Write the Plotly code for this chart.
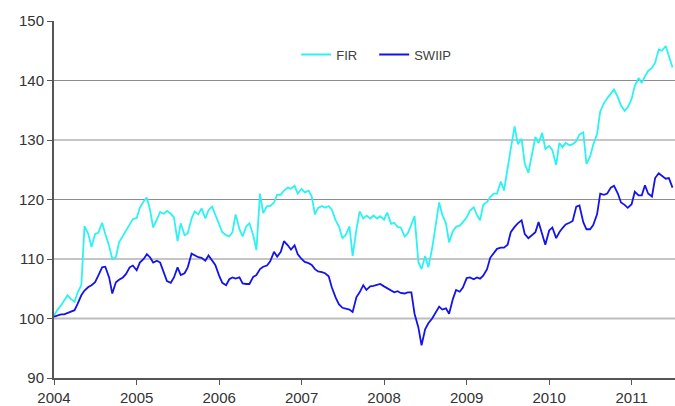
import pandas as pd
import plotly.graph_objects as go

# Semi-monthly observations starting January 2004
start_date = "2004-01-01"

fir = [
    100.5, 101.4, 102.2, 103.1, 103.9, 103.3, 102.8, 104.4, 105.6, 115.5,
    114.2, 112.0, 114.2, 114.4, 116.1, 114.2, 112.2, 110.0, 110.3, 112.8,
    113.9, 114.7, 115.8, 116.7, 116.9, 118.6, 119.7, 120.3, 118.3, 115.3,
    116.7, 117.9, 117.6, 118.1, 117.6, 117.0, 113.0, 116.0, 114.0, 114.3,
    116.8, 118.0, 117.5, 118.5, 116.8, 118.2, 118.8, 117.5, 116.0, 114.5,
    114.0, 113.8, 114.5, 117.5, 115.0, 113.8, 115.5, 116.0, 114.0, 111.5,
    121.0, 117.7, 118.9, 118.9, 119.5, 120.8, 120.8, 121.5, 122.0, 121.8,
    122.3, 121.0, 121.8, 121.2, 121.5, 120.5, 117.5, 118.6, 118.9, 118.6,
    118.9, 118.3, 116.5, 115.5, 113.5, 114.0, 115.5, 110.5, 115.0, 118.0,
    116.8, 117.3, 116.8, 117.3, 116.8, 117.2, 116.6, 117.8, 115.9, 116.1,
    115.4, 115.3, 113.8, 114.3, 115.8, 117.2, 109.5, 108.3, 110.5, 108.6,
    111.8, 115.0, 119.5, 117.4, 116.0, 112.8, 114.7, 115.4, 115.6, 116.2,
    117.0, 118.1, 118.7, 117.4, 116.5, 119.1, 119.6, 120.4, 121.0, 121.0,
    123.0, 121.5, 125.5, 128.5, 132.3, 129.3, 130.2, 126.0, 124.5, 127.5,
    130.5, 129.5, 131.2, 128.5, 129.0, 128.3, 125.8, 129.5, 128.8, 129.5,
    129.1, 129.3, 129.8, 130.9, 131.3, 126.0, 127.2, 129.2, 131.0, 134.8,
    136.2, 137.0, 137.7, 138.5, 137.2, 135.8, 134.9, 135.5, 136.9, 139.1,
    140.4, 139.6, 140.7, 141.6, 142.1, 143.0, 145.2, 145.0, 145.8, 144.0,
    142.2,
]

swiip = [
    100.3, 100.5, 100.7, 100.7, 100.9, 101.1, 101.4, 102.5, 103.9, 104.7,
    105.3, 105.6, 106.1, 107.2, 108.6, 108.7, 106.9, 104.2, 106.1, 106.5,
    106.9, 107.5, 108.6, 108.9, 108.1, 109.4, 110.0, 110.8, 110.3, 109.4,
    109.7, 109.4, 107.8, 106.3, 106.0, 106.9, 108.6, 107.3, 107.6, 108.6,
    110.9, 110.6, 110.3, 110.2, 109.7, 110.6, 109.8, 109.0, 107.2, 106.0,
    105.6, 106.6, 106.9, 106.7, 106.9, 105.9, 105.8, 105.8, 107.0, 107.3,
    108.3, 108.7, 108.9, 109.6, 111.2, 110.4, 111.2, 113.0, 112.3, 111.6,
    112.3, 110.8, 110.0, 109.5, 109.3, 109.0, 108.3, 107.9, 107.8, 107.6,
    107.1, 105.2, 103.5, 102.4, 101.8, 101.7, 101.5, 101.1, 103.6, 104.4,
    105.6, 104.8, 105.4, 105.5, 105.6, 105.8, 105.4, 105.1, 104.8, 104.4,
    104.6, 104.3, 104.2, 104.4, 104.4, 100.8, 98.5, 95.5, 98.2, 99.2,
    100.0, 100.8, 102.0, 101.5, 101.7, 100.8, 103.3, 104.8, 104.5, 105.2,
    106.8, 106.9, 106.6, 106.9, 106.7, 107.2, 108.3, 110.2, 110.9, 111.7,
    111.9, 111.9, 112.4, 114.5, 115.4, 116.0, 116.5, 114.2, 113.5, 114.0,
    114.5, 116.2, 114.0, 112.4, 114.8, 115.3, 113.5, 114.5, 115.2, 115.8,
    116.1, 116.4, 118.8, 119.0, 116.2, 115.0, 115.0, 115.7, 117.5, 121.0,
    120.8, 121.0, 122.0, 122.3, 121.0, 119.5, 119.1, 118.6, 119.2, 121.3,
    120.7, 120.7, 122.4, 121.0, 120.5, 123.6, 124.4, 124.0, 123.5, 123.6,
    122.0,
]

dates = pd.date_range(start_date, periods=len(fir), freq="SMS")

y_ticks = [90, 100, 110, 120, 130, 140, 150]
grid_vals = [110, 120, 130, 140]
base_val = 100

fig = go.Figure()
fig.add_trace(go.Scatter(x=dates, y=fir, name="FIR", mode="lines",
                         line=dict(color="#2DF2F2", width=1.8)))
fig.add_trace(go.Scatter(x=dates, y=swiip, name="SWIIP", mode="lines",
                         line=dict(color="#1414EA", width=1.8)))

for v in grid_vals:
    fig.add_shape(type="line", xref="paper", x0=0, x1=1, yref="y", y0=v, y1=v,
                  line=dict(color="#8c8c8c", width=1.2), layer="below")
fig.add_shape(type="line", xref="paper", x0=0, x1=1, yref="y", y0=base_val, y1=base_val,
              line=dict(color="#bdbdbd", width=2.2), layer="below")

font_family = "Liberation Sans, Arial, sans-serif"

fig.update_layout(
    width=675, height=406,
    margin=dict(l=54, r=0, t=21, b=25),
    paper_bgcolor="white", plot_bgcolor="white",
    font=dict(family=font_family, color="#333333"),
    showlegend=True,
    legend=dict(orientation="h", x=0.39, y=0.906, xanchor="left", yanchor="middle",
                bgcolor="rgba(0,0,0,0)", font=dict(size=13, color="#404040"),
                entrywidth=33, entrywidthmode="pixels"),
    xaxis=dict(type="date", range=["2004-01-01", "2011-07-12"],
               tickformat="%Y", dtick="M12", tick0="2004-01-01",
               ticks="outside", ticklen=5, tickcolor="#555555", tickwidth=1,
               showline=True, linecolor="#555555", linewidth=2,
               showgrid=False, zeroline=False,
               tickfont=dict(size=15, color="#333333")),
    yaxis=dict(range=[90, 150], tickvals=y_ticks,
               ticks="outside", ticklen=5, tickcolor="#555555", tickwidth=1,
               showline=True, linecolor="#555555", linewidth=2,
               showgrid=False, zeroline=False,
               tickfont=dict(size=15, color="#333333")),
)

fig.write_html(
    "out.html",
    config={"displayModeBar": False},
    post_script="document.body.style.margin='0';document.body.style.overflow='hidden';",
)
